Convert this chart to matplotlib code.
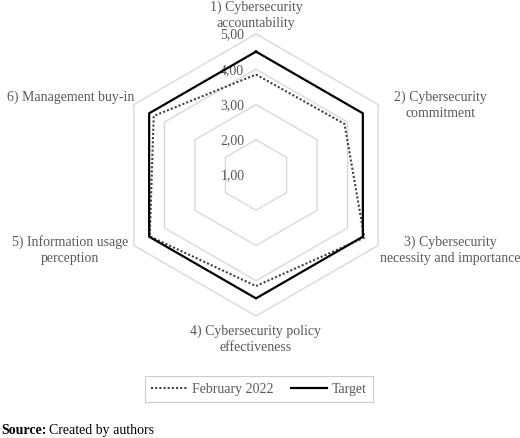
import numpy as np
import matplotlib
matplotlib.use("Agg")
import matplotlib.pyplot as plt

categories = ["1) Cybersecurity\naccountability",
              "2) Cybersecurity\ncommitment",
              "3) Cybersecurity\nnecessity and importance",
              "4) Cybersecurity policy\neffectiveness",
              "5) Information usage\nperception",
              "6) Management buy-in"]
feb_2022 = [3.85, 3.90, 4.55, 4.15, 4.48, 4.35]
target = [4.50, 4.50, 4.50, 4.50, 4.50, 4.50]
tick_values = [1, 2, 3, 4, 5]
tick_labels = ["1,00", "2,00", "3,00", "4,00", "5,00"]

plt.rcParams["font.family"] = ["Liberation Serif", "DejaVu Serif"]
gray_text = "#595959"
fs = 10

W, H = 520, 439
fig = plt.figure(figsize=(W / 100, H / 100), dpi=100)
ax = fig.add_axes([0, 0, 1, 1])

# pixel layout: centre of radar and pixels per unit
cx, cy, unit = 256, 176, 35.25
ax.set_xlim(-cx / unit, (W - cx) / unit)
ax.set_ylim(-(H - cy) / unit, cy / unit)
ax.axis("off")

n = len(categories)
angles = np.pi / 2 - 2 * np.pi * np.arange(n) / n
r_min = tick_values[0]


def to_xy(vals):
    r = np.asarray(vals, dtype=float) - r_min
    x = r * np.cos(angles)
    y = r * np.sin(angles)
    return np.append(x, x[0]), np.append(y, y[0])


# hexagon grid
for v in tick_values[1:]:
    gx, gy = to_xy([v] * n)
    ax.plot(gx, gy, color="#d9d9d9", lw=1.0, zorder=1)

# tick labels along the top axis
for v, lab in zip(tick_values, tick_labels):
    ax.text(-0.33, v - r_min, lab, ha="right", va="center",
            fontsize=fs, color=gray_text, zorder=2)

fx, fy = to_xy(feb_2022)
tx, ty = to_xy(target)
ax.plot(fx, fy, color="#404040", lw=1.5, ls=(0, (1, 1)), label="February 2022", zorder=3)
ax.plot(tx, ty, color="black", lw=1.6, label="Target", zorder=4)

# category labels (pixel positions of label centres)
label_pos = [(256, 15), (440, 105), (450, 250), (256, 339), (70, 250), (71, 97)]
for lab, (px, py) in zip(categories, label_pos):
    fig.text(px / W, 1 - py / H, lab, ha="center", va="center",
             fontsize=fs, color=gray_text, linespacing=1.3)

leg = ax.legend(loc="center", bbox_to_anchor=(259 / W, 1 - 390 / H),
                bbox_transform=fig.transFigure, ncol=2, frameon=True,
                fancybox=False, edgecolor="#bfbfbf", fontsize=fs,
                handlelength=2.6, columnspacing=1.25, handletextpad=0.35,
                borderpad=0.45)
for t in leg.get_texts():
    t.set_color(gray_text)
leg.get_frame().set_linewidth(0.8)

# source line: bold prefix followed by normal text
src_y = 1 - 431 / H
bold = fig.text(1 / W, src_y, "Source:", fontsize=fs, fontweight="bold",
                va="center", color="black")
fig.canvas.draw()
bb = bold.get_window_extent()
fig.text(bb.x1 / W + 3 / W, src_y, "Created by authors", fontsize=fs,
         va="center", color="black")

fig.savefig("out.png", dpi=100)
